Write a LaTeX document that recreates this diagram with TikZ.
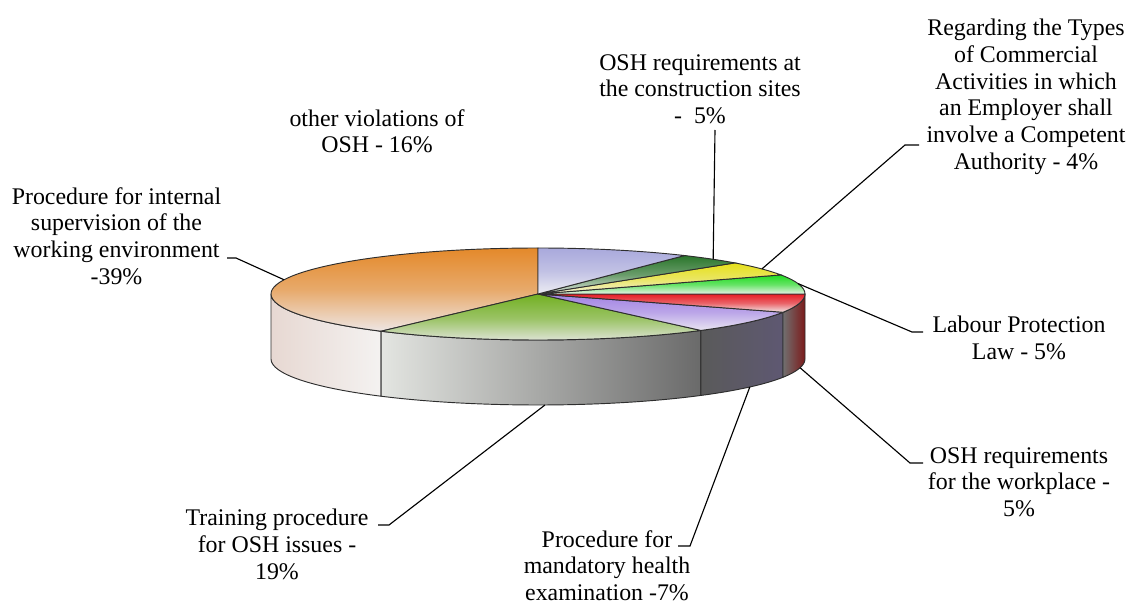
\documentclass[tikz,border=0pt]{standalone}
\usepackage{fontspec}
\setmainfont{Liberation Serif}
\usepackage{tikz}
\usetikzlibrary{math}
\definecolor{OrangeTop}{HTML}{E4892A}
\definecolor{OrangeBot}{HTML}{EEE6E4}
\definecolor{TrainTop}{HTML}{72B022}
\definecolor{TrainBot}{HTML}{E6E7E3}
\definecolor{HealthTop}{HTML}{A283E4}
\definecolor{HealthBot}{HTML}{E9E5F1}
\definecolor{RedTop}{HTML}{E61E26}
\definecolor{RedBot}{HTML}{F1E9E9}
\definecolor{LawTop}{HTML}{20DC20}
\definecolor{LawBot}{HTML}{E8F1E8}
\definecolor{TypesTop}{HTML}{E6E01A}
\definecolor{TypesBot}{HTML}{F1F0E2}
\definecolor{SitesTop}{HTML}{2A762B}
\definecolor{SitesBot}{HTML}{E1E5E1}
\definecolor{OtherTop}{HTML}{A9A9DC}
\definecolor{OtherBot}{HTML}{EDEDF3}
\definecolor{OrangeSideL}{HTML}{E7D8D2}
\definecolor{OrangeSideR}{HTML}{F4F2F1}
\definecolor{TrainSideL}{HTML}{E3E5E1}
\definecolor{TrainSideR}{HTML}{6A6A6A}
\definecolor{HealthSideL}{HTML}{5A5A5A}
\definecolor{HealthSideR}{HTML}{5E5872}
\definecolor{RedSideL}{HTML}{707070}
\definecolor{RedSideR}{HTML}{7C1A1A}
\definecolor{EdgeColor}{HTML}{2E2E2E}

\begin{document}
\begin{tikzpicture}[x=0.75pt, y=0.75pt]
    \tikzset{%
        slicetext/.style={font=\fontsize{17.9pt}{20pt}\selectfont, align=center, inner sep=0pt, anchor=north},
        leaderline/.style={draw=black, line width=0.85pt},
        pieedge/.style={draw=EdgeColor, line width=0.7pt},
    }
    \tikzmath{%
        \pcx=538;
        \pcy=321;
        \prx=267;
        \pry=46;
        \pdep=65;
    };

    \useasboundingbox (0, 0) rectangle (1140, 615);

    % side of the disc, front half
    \foreach \a/\b/\cl/\cr in {180/234/OrangeSideL/OrangeSideR, 234/307.6/TrainSideL/TrainSideR,
            307.6/336.6/HealthSideL/HealthSideR, 336.6/360/RedSideL/RedSideR} {%
            \shadedraw [pieedge, left color=\cl, right color=\cr]
                ({\pcx+\prx*cos(\a)}, {\pcy+\pry*sin(\a)})
                arc [start angle=\a, end angle=\b, x radius=\prx, y radius=\pry]
                -- ++(0, -\pdep)
                arc [start angle=\b, end angle=\a, x radius=\prx, y radius=\pry]
                -- cycle;
        };

    % top of the disc
    \foreach \a/\b/\ct/\cb in {90/234/OrangeTop/OrangeBot, 234/307.6/TrainTop/TrainBot,
            307.6/336.6/HealthTop/HealthBot, 336.6/360/RedTop/RedBot,
            0/24.5/LawTop/LawBot, 24.5/42.5/TypesTop/TypesBot,
            42.5/56.7/SitesTop/SitesBot, 56.7/90/OtherTop/OtherBot} {%
            \shadedraw [pieedge, top color=\ct, bottom color=\cb, middle color=\ct!65!\cb]
                (\pcx, \pcy) -- ({\pcx+\prx*cos(\a)}, {\pcy+\pry*sin(\a)})
                arc [start angle=\a, end angle=\b, x radius=\prx, y radius=\pry]
                -- cycle;
        };

    % points on the rim
    \coordinate (tipInternal) at ({\pcx+\prx*cos(162)}, {\pcy+\pry*sin(162)});
    \coordinate (tipSites) at ({\pcx+\prx*cos(49)}, {\pcy+\pry*sin(49)});
    \coordinate (tipTypes) at ({\pcx+\prx*cos(33)}, {\pcy+\pry*sin(33)});
    \coordinate (tipLaw) at ({\pcx+\prx*cos(13)}, {\pcy+\pry*sin(13)});
    \coordinate (tipWorkplace) at ({\pcx+\prx*cos(349)}, {\pcy-\pdep+\pry*sin(349)});
    \coordinate (tipHealth) at ({\pcx+\prx*cos(322.5)}, {\pcy-\pdep+\pry*sin(322.5)});
    \coordinate (tipTraining) at ({\pcx+\prx*cos(271.5)}, {\pcy-\pdep+\pry*sin(271.5)});

    % labels
    \node [slicetext] (lblInternal) at (116.5, 428) {Procedure for internal\\supervision of the\\working environment\\-39\%};
    \node [slicetext] (lblOther) at (377, 506) {other violations of\\OSH - 16\%};
    \node [slicetext] (lblSites) at (700, 561) {OSH requirements at\\the construction sites\\-\ \ 5\%};
    \node [slicetext] (lblTypes) at (1026, 596) {Regarding the Types\\of Commercial\\Activities in which\\an Employer shall\\involve a Competent\\Authority - 4\%};
    \node [slicetext] (lblLaw) at (1019, 299) {Labour Protection\\Law - 5\%};
    \node [slicetext] (lblWorkplace) at (1019, 168) {OSH requirements\\for the workplace -\\5\%};
    \node [slicetext] (lblHealth) at (607, 85) {Procedure for\\mandatory health\\examination -7\%};
    \node [slicetext] (lblTraining) at (277, 106) {Training procedure\\for OSH issues -\\19\%};

    % leader lines
    \coordinate (stubInternal) at (227, 357);
    \coordinate (stubSites) at (715, 485);
    \coordinate (stubTypes) at (919, 470);
    \coordinate (stubLaw) at (923, 283);
    \coordinate (stubWorkplace) at (923, 152);
    \coordinate (stubHealth) at (678, 69);
    \coordinate (stubTraining) at (378, 90);

    \draw [leaderline] (stubInternal) -- ++(9, 0) -- (tipInternal);
    \draw [leaderline] (stubSites) -- (tipSites);
    \draw [leaderline] (stubTypes) -- ++(-14, 0) -- (tipTypes);
    \draw [leaderline] (stubLaw) -- ++(-11, 0) -- (tipLaw);
    \draw [leaderline] (stubWorkplace) -- ++(-13, 0) -- (tipWorkplace);
    \draw [leaderline] (stubHealth) -- ++(12, 0) -- (tipHealth);
    \draw [leaderline] (stubTraining) -- ++(11, 0) -- (tipTraining);
\end{tikzpicture}
\end{document}
